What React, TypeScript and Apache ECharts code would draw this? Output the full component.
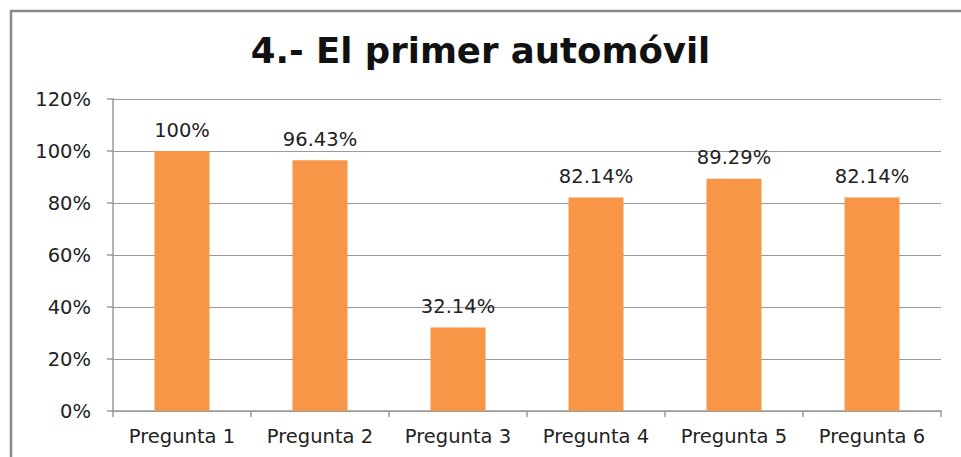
import React, { useEffect, useRef } from "react";
import * as echarts from "echarts";

const categories = ["Pregunta 1", "Pregunta 2", "Pregunta 3", "Pregunta 4", "Pregunta 5", "Pregunta 6"];
const values = [100, 96.43, 32.14, 82.14, 89.29, 82.14];
const valueLabels = ["100%", "96.43%", "32.14%", "82.14%", "89.29%", "82.14%"];
const titleText = "4.- El primer automóvil";

export default function App() {
  const ref = useRef<HTMLDivElement>(null);
  useEffect(() => {
    const chart = echarts.init(ref.current!, null, { renderer: "svg" });
    const font = "'DejaVu Sans', sans-serif";
    chart.setOption({
      animation: false,
      backgroundColor: "#ffffff",
      title: {
        text: titleText,
        left: "center",
        top: 27,
        textStyle: { fontFamily: font, fontSize: 35.5, fontWeight: "bold", color: "#111" },
      },
      graphic: [
        {
          type: "rect",
          shape: { x: 11, y: 11, width: 1000, height: 500 },
          style: { fill: "none", stroke: "#8a8a8a", lineWidth: 2.5 },
          silent: true,
        },
      ],
      grid: { left: 113, right: 20, top: 99, bottom: 46 },
      xAxis: {
        type: "category",
        data: categories,
        axisLine: { lineStyle: { color: "#9a9a9a", width: 1.5 } },
        axisTick: { show: true, interval: 0, length: 6, lineStyle: { color: "#9a9a9a", width: 1.5 } },
        axisLabel: { interval: 0, fontFamily: font, fontSize: 19.5, color: "#222", margin: 15 },
      },
      yAxis: {
        type: "value",
        min: 0,
        max: 120,
        interval: 20,
        axisLine: { show: true, lineStyle: { color: "#9a9a9a", width: 1.5 } },
        axisTick: { show: true, length: 6, lineStyle: { color: "#9a9a9a", width: 1.5 } },
        splitLine: { lineStyle: { color: "#9a9a9a", width: 1.2 } },
        axisLabel: { fontFamily: font, fontSize: 19.5, color: "#222", margin: 22, formatter: "{value}%" },
      },
      series: [
        {
          type: "bar",
          data: values,
          barWidth: 55,
          itemStyle: { color: "#F79646" },
          label: {
            show: true,
            position: "top",
            distance: 11,
            fontFamily: font,
            fontSize: 19.5,
            color: "#222",
            formatter: (p: any) => valueLabels[p.dataIndex],
          },
        },
      ],
    });
    return () => chart.dispose();
  }, []);
  return <div ref={ref} style={{ position: "fixed", left: 0, top: 0, width: 961, height: 457 }} />;
}
